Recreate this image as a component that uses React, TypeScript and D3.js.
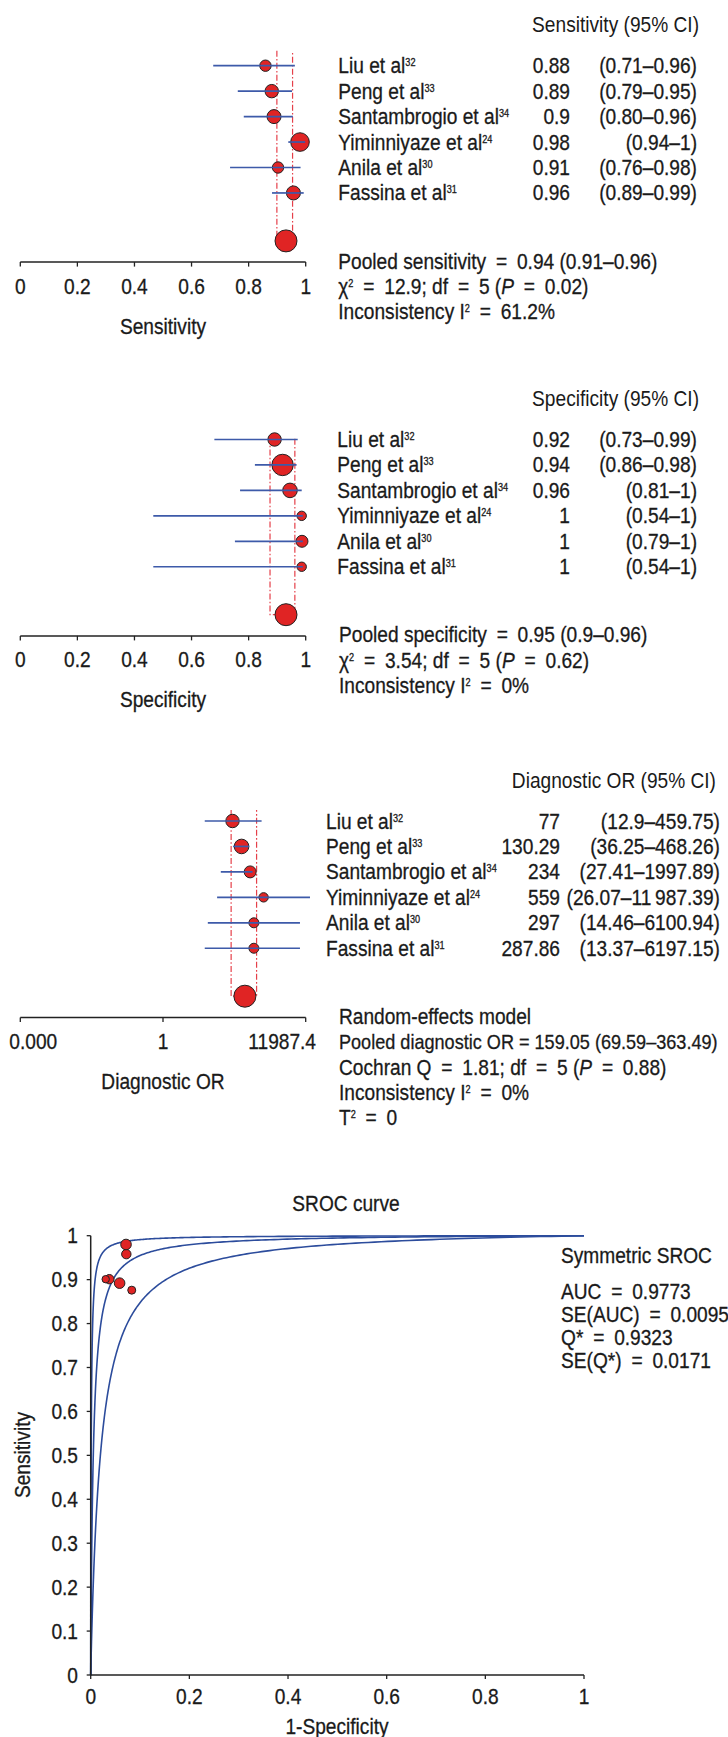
import React from "react";
import * as d3 from "d3";

const W = 728;
const H = 1737;
const FONT = "'Liberation Sans', Arial, sans-serif";
const FS = 22;
const SX = 0.87; // horizontal condensing to mimic the condensed face
const EQ = 4.5 / SX; // extra room around "=" (local units)
const INK = "#1a1a1a";
const RED = "#e02424";
const BLUE = "#3d5aa9";
const DASH = "#e5404a";

// ---------- data ----------
const studies = ["Liu et al", "Peng et al", "Santambrogio et al", "Yiminniyaze et al", "Anila et al", "Fassina et al"];
const refs = ["32", "33", "34", "24", "30", "31"];

// Sensitivity forest (plotted values)
const sensPoint = [0.859, 0.881, 0.889, 0.98, 0.903, 0.957];
const sensLow = [0.676, 0.762, 0.783, 0.939, 0.735, 0.882];
const sensHigh = [0.962, 0.952, 0.955, 0.998, 0.982, 0.993];
const sensWeight = [11.0, 15.3, 16.7, 29.4, 11.0, 16.7];
const sensPooled = [0.931, 0.899, 0.954];
const sensValueText = ["0.88", "0.89", "0.9", "0.98", "0.91", "0.96"];
const sensCIText = ["(0.71–0.96)", "(0.79–0.95)", "(0.80–0.96)", "(0.94–1)", "(0.76–0.98)", "(0.89–0.99)"];

// Specificity forest
const specPoint = [0.891, 0.919, 0.945, 0.986, 0.987, 0.986];
const specLow = [0.68, 0.822, 0.77, 0.466, 0.752, 0.466];
const specHigh = [0.972, 0.968, 0.986, 0.99, 0.99, 0.99];
const specWeight = [15.3, 38.9, 18.1, 7.5, 12.2, 7.5];
const specPooled = [0.931, 0.875, 0.962];
const specValueText = ["0.92", "0.94", "0.96", "1", "1", "1"];
const specCIText = ["(0.73–0.99)", "(0.86–0.98)", "(0.81–1)", "(0.54–1)", "(0.79–1)", "(0.54–1)"];

// Diagnostic OR forest (log scale)
const dorPoint = [97, 176, 310, 750, 396, 396];
const dorLow = [15.6, 101, 44.9, 35.2, 19.1, 15.6];
const dorHigh = [658, 290, 363, 15900, 8220, 8220];
const dorWeight = [15.3, 18.1, 12.2, 7.5, 8.5, 8.5];
const dorPooled = [219, 88.6, 473];
const dorValueText = ["77", "130.29", "234", "559", "297", "287.86"];
const dorCIText = ["(12.9–459.75)", "(36.25–468.26)", "(27.41–1997.89)", "(26.07–11\u2009987.39)", "(14.46–6100.94)", "(13.37–6197.15)"];

const propTicks = [0, 0.2, 0.4, 0.6, 0.8, 1];
const propTickLabels = ["0", "0.2", "0.4", "0.6", "0.8", "1"];
const dorTicks = [1 / 11987.4, 1, 11987.4];
const dorTickLabels = ["0.000", "1", "11987.4"];

// SROC
const srocFPR = [0.0722, 0.0716, 0.0377, 0.0304, 0.0586, 0.0832];
const srocSens = [0.958, 0.98, 0.901, 0.901, 0.892, 0.876];
const srocWeight = [18.3, 23.2, 18.3, 11.3, 23.2, 13.2];
const srocCurveDOR = [1000, 190, 50];
const srocXTicks = [0, 0.2, 0.4, 0.6, 0.8, 1];
const srocYTicks = [0, 0.1, 0.2, 0.3, 0.4, 0.5, 0.6, 0.7, 0.8, 0.9, 1];
const srocStats = ["AUC = 0.9773", "SE(AUC) = 0.0095", "Q* = 0.9323", "SE(Q*) = 0.0171"];

// ---------- helpers ----------
type Seg = { t: string; sup?: boolean; it?: boolean };

function T({
  x, y, anchor, rotate, size, children,
}: { x: number; y: number; anchor?: string; rotate?: number; size?: number; children: any }) {
  const rot = rotate ? ` rotate(${rotate})` : "";
  return (
    <text
      transform={`translate(${x},${y})${rot} scale(${SX},1)`}
      textAnchor={anchor || "start"}
      fontSize={size}
    >
      {children}
    </text>
  );
}

function Rich({ x, y, segs, anchor, size }: { x: number; y: number; segs: Seg[]; anchor?: string; size?: number }) {
  if (size) {
    return <T x={x} y={y} anchor={anchor} size={size}>{segs.map((s) => s.t).join("")}</T>;
  }
  let raised = false;
  const out: any[] = [];
  segs.forEach((s, i) => {
    let dy = 0;
    if (s.sup && !raised) dy = -7;
    if (!s.sup && raised) dy = 7;
    raised = !!s.sup;
    const parts = s.t.split("=");
    parts.forEach((part, j) => {
      if (j > 0) out.push(<tspan key={`${i}e${j}`} dx={EQ}>=</tspan>);
      out.push(
        <tspan
          key={`${i}p${j}`}
          dy={j === 0 && dy ? dy : undefined}
          dx={j > 0 ? EQ : undefined}
          fontSize={s.sup ? 10.5 : undefined}
          fontStyle={s.it ? "italic" : undefined}
        >
          {part}
        </tspan>
      );
    });
  });
  return <T x={x} y={y} anchor={anchor}>{out}</T>;
}

const rScale = d3.scaleSqrt().domain([0, 100]).range([0, 17.15]);
const POOLED_R = 11;
const ROW = 25.45;

type PanelProps = {
  row0: number;
  x: any;
  point: number[];
  low: number[];
  high: number[];
  weight: number[];
  pooled: number[];
  valueText: string[];
  ciText: string[];
  header: string;
  headerRight: number;
  nameX: number;
  valueRight: number;
  ciRight: number;
  statsX: number;
  stats: Seg[][];
  statsSize?: (number | undefined)[];
  ticks: number[];
  tickLabels: string[];
  edgeLabels?: boolean;
  title: string;
  dashTop: number;
};

function Forest(p: PanelProps) {
  const y = d3.scalePoint<string>().domain(studies).range([p.row0, p.row0 + ROW * (studies.length - 1)]);
  const pooledY = p.row0 + 175.2;
  const axisY = p.row0 + 196.4;
  const [x0, x1] = p.x.range();
  const lo = p.x(p.pooled[1]);
  const hi = p.x(p.pooled[2]);
  const top = p.row0 + p.dashTop;
  return (
    <g>
      <T x={p.headerRight} y={p.row0 - 33.5} anchor="end">{p.header}</T>
      <path
        d={`M${lo},${top}L${lo},${pooledY}L${hi},${pooledY}L${hi},${top}`}
        fill="none"
        stroke={DASH}
        strokeWidth={1.2}
        strokeDasharray="6,2.2,1.6,2.2"
      />
      {studies.map((s, i) => (
        <circle key={"c" + i} cx={p.x(p.point[i])} cy={y(s)} r={rScale(p.weight[i])} fill={RED} stroke="#222" strokeWidth={1} />
      ))}
      {studies.map((s, i) => (
        <line key={"l" + i} x1={p.x(p.low[i])} x2={p.x(p.high[i])} y1={y(s)} y2={y(s)} stroke={BLUE} strokeWidth={1.7} />
      ))}
      <circle cx={p.x(p.pooled[0])} cy={pooledY} r={POOLED_R} fill={RED} stroke="#222" strokeWidth={1} />
      {/* axis */}
      <line x1={x0} x2={x1} y1={axisY} y2={axisY} stroke="#222" strokeWidth={1.5} />
      {p.ticks.map((t, i) => (
        <line key={"t" + i} x1={p.x(t)} x2={p.x(t)} y1={axisY} y2={axisY + 4.5} stroke="#222" strokeWidth={1.3} />
      ))}
      <g stroke={INK} strokeWidth={0.3}>
        {p.ticks.map((t, i) => {
          let anchor = "middle";
          let dx = 0;
          if (p.edgeLabels && i === 0) { anchor = "start"; dx = -11; }
          if (p.edgeLabels && i === p.ticks.length - 1) { anchor = "end"; dx = 10.3; }
          return (
            <T key={"tl" + i} x={p.x(t) + dx} y={axisY + 31.5} anchor={anchor}>{p.tickLabels[i]}</T>
          );
        })}
        <T x={163} y={axisY + 71.5} anchor="middle">{p.title}</T>
        {studies.map((s, i) => (
          <g key={"r" + i}>
            <Rich x={p.nameX} y={(y(s) as number) + 7.5} segs={[{ t: s }, { t: refs[i], sup: true }]} />
            <T x={p.valueRight} y={(y(s) as number) + 7.5} anchor="end">{p.valueText[i]}</T>
            <T x={p.ciRight} y={(y(s) as number) + 7.5} anchor="end">{p.ciText[i]}</T>
          </g>
        ))}
        {p.stats.map((segs, i) => (
          <Rich
            key={"s" + i}
            x={p.statsX}
            y={axisY - 1 + 7.5 + i * 25.3}
            segs={segs}
            size={p.statsSize ? p.statsSize[i] : undefined}
          />
        ))}
      </g>
    </g>
  );
}

const propX = d3.scaleLinear().domain([0, 1]).range([20.3, 305.7]);
const dorX = d3.scaleLog().domain([1 / 11987.4, 11987.4]).range([20.3, 305.7]);

function Sroc() {
  const x = d3.scaleLinear().domain([0, 1]).range([90.7, 584]);
  const y = d3.scaleLinear().domain([0, 1]).range([1675, 1235.7]);
  const r = d3.scaleSqrt().domain([0, 100]).range([0, 11]);
  const grid = [0, ...d3.range(-6, 0.00001, 0.01).map((e) => Math.pow(10, e))];
  const line = d3
    .line<number[]>()
    .x((d) => x(d[0]))
    .y((d) => y(d[1]));
  return (
    <g>
      {srocCurveDOR.map((D, k) => (
        <path
          key={k}
          d={line(grid.map((f) => [f, (D * f) / (D * f + 1 - f)])) || ""}
          fill="none"
          stroke="#2c4c9c"
          strokeWidth={1.6}
        />
      ))}
      {/* axes */}
      <line x1={x(0)} x2={x(1)} y1={y(0)} y2={y(0)} stroke="#222" strokeWidth={1.5} />
      <line x1={x(0)} x2={x(0)} y1={y(0)} y2={y(1)} stroke="#222" strokeWidth={1.5} />
      {srocXTicks.map((t, i) => (
        <line key={"xt" + i} x1={x(t)} x2={x(t)} y1={y(0)} y2={y(0) + 4} stroke="#222" strokeWidth={1.3} />
      ))}
      {srocYTicks.map((t, i) => (
        <line key={"yt" + i} x1={x(0) - 4} x2={x(0)} y1={y(t)} y2={y(t)} stroke="#222" strokeWidth={1.3} />
      ))}
      {srocFPR.map((f, i) => (
        <circle key={"p" + i} cx={x(f)} cy={y(srocSens[i])} r={r(srocWeight[i])} fill={RED} stroke="#222" strokeWidth={1} />
      ))}
      <g stroke={INK} strokeWidth={0.3}>
        <T x={346} y={1210.5} anchor="middle">SROC curve</T>
        {srocXTicks.map((t, i) => (
          <T key={"xl" + i} x={x(t)} y={1703.5} anchor="middle">{String(t)}</T>
        ))}
        {srocYTicks.map((t, i) => (
          <T key={"yl" + i} x={78} y={y(t) + 7.5} anchor="end">{String(t)}</T>
        ))}
        <T x={337} y={1733.5} anchor="middle">1-Specificity</T>
        <T x={30} y={1455} anchor="middle" rotate={-90}>Sensitivity</T>
        <T x={561} y={1262.5}>Symmetric SROC</T>
        {srocStats.map((s, i) => (
          <Rich key={"st" + i} x={561} y={1299.2 + i * 22.8} segs={[{ t: s }]} />
        ))}
      </g>
    </g>
  );
}

export default function App() {
  return (
    <svg
      width={W}
      height={H}
      viewBox={`0 0 ${W} ${H}`}
      style={{ position: "absolute", left: 0, top: 0, display: "block", background: "#fff" }}
      fontFamily={FONT}
      fontSize={FS}
      fill={INK}
    >
      <rect x={0} y={0} width={W} height={H} fill="#fff" />
      <Forest
        row0={65.7}
        x={propX}
        point={sensPoint}
        low={sensLow}
        high={sensHigh}
        weight={sensWeight}
        pooled={sensPooled}
        valueText={sensValueText}
        ciText={sensCIText}
        header="Sensitivity (95% CI)"
        headerRight={699}
        nameX={338.3}
        valueRight={570}
        ciRight={697}
        statsX={338.3}
        stats={[
          [{ t: "Pooled sensitivity = 0.94 (0.91–0.96)" }],
          [{ t: "χ" }, { t: "2", sup: true }, { t: " = 12.9; df = 5 (" }, { t: "P", it: true }, { t: " = 0.02)" }],
          [{ t: "Inconsistency I" }, { t: "2", sup: true }, { t: " = 61.2%" }],
        ]}
        ticks={propTicks}
        tickLabels={propTickLabels}
        title="Sensitivity"
        dashTop={-15}
      />
      <Forest
        row0={439.5}
        x={propX}
        point={specPoint}
        low={specLow}
        high={specHigh}
        weight={specWeight}
        pooled={specPooled}
        valueText={specValueText}
        ciText={specCIText}
        header="Specificity (95% CI)"
        headerRight={699}
        nameX={337.3}
        valueRight={570}
        ciRight={697}
        statsX={339}
        stats={[
          [{ t: "Pooled specificity = 0.95 (0.9–0.96)" }],
          [{ t: "χ" }, { t: "2", sup: true }, { t: " = 3.54; df = 5 (" }, { t: "P", it: true }, { t: " = 0.62)" }],
          [{ t: "Inconsistency I" }, { t: "2", sup: true }, { t: " = 0%" }],
        ]}
        ticks={propTicks}
        tickLabels={propTickLabels}
        title="Specificity"
        dashTop={-2}
      />
      <Forest
        row0={821}
        x={dorX}
        point={dorPoint}
        low={dorLow}
        high={dorHigh}
        weight={dorWeight}
        pooled={dorPooled}
        valueText={dorValueText}
        ciText={dorCIText}
        header="Diagnostic OR (95% CI)"
        headerRight={716}
        nameX={326}
        valueRight={560}
        ciRight={720}
        statsX={339}
        stats={[
          [{ t: "Random-effects model" }],
          [{ t: "Pooled diagnostic OR = 159.05 (69.59–363.49)" }],
          [{ t: "Cochran Q = 1.81; df = 5 (" }, { t: "P", it: true }, { t: " = 0.88)" }],
          [{ t: "Inconsistency I" }, { t: "2", sup: true }, { t: " = 0%" }],
          [{ t: "T" }, { t: "2", sup: true }, { t: " = 0" }],
        ]}
        statsSize={[undefined, 20.8, undefined, undefined, undefined]}
        ticks={dorTicks}
        tickLabels={dorTickLabels}
        edgeLabels={true}
        title="Diagnostic OR"
        dashTop={-11}
      />
      <Sroc />
    </svg>
  );
}
